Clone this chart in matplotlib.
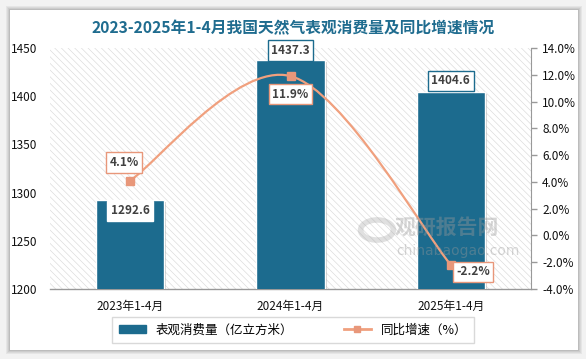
import matplotlib
matplotlib.use('Agg')
import matplotlib.pyplot as plt
import matplotlib.patches as mpatches
import matplotlib.patheffects as pe
from matplotlib.path import Path
from matplotlib.lines import Line2D
import numpy as np

plt.rcParams['font.family'] = ['Noto Sans CJK SC', 'DejaVu Sans']
plt.rcParams['hatch.color'] = '#dadada'
plt.rcParams['hatch.linewidth'] = 0.45

# ── Data ─────────────────────────────────────────────────────────────────────
categories = ['2023年1-4月', '2024年1-4月', '2025年1-4月']
consumption = [1292.6, 1437.3, 1404.6]   # 亿立方米
growth = [4.1, 11.9, -2.2]               # %

BAR_C = '#1c6b8e'
LINE_C = '#f0a07e'
MARK_C = '#e8977a'
TXT_C = '#404040'

W, H = 586, 359
fig = plt.figure(figsize=(W / 100, H / 100), dpi=100, facecolor='#f2f2f2')

# card with soft shadow
for i, a in enumerate([0.05, 0.05, 0.06, 0.08]):
    d = 4 - i
    fig.patches.append(mpatches.Rectangle(((10 - d) / W, (H - 350 - d) / H),
                                          (568 + 2 * d) / W, (340 + 2 * d) / H,
                                          transform=fig.transFigure, facecolor='black',
                                          edgecolor='none', alpha=a, zorder=0))
fig.patches.append(mpatches.Rectangle((10 / W, (H - 350) / H), 568 / W, 340 / H,
                                      transform=fig.transFigure, facecolor='white',
                                      edgecolor='none', zorder=0.5))

fig.text(0.5, (H - 28) / H, '2023-2025年1-4月我国天然气表观消费量及同比增速情况',
         ha='center', va='center', fontsize=11.3, fontweight='bold', color='#1f6c8f')

ax = fig.add_axes([50 / W, (H - 289) / H, 481 / W, 241 / H])
ax.set_zorder(1)
ax.patch.set_facecolor('white')
ax.patch.set_hatch('\\\\\\\\\\')
ax.patch.set_edgecolor('#dadada')
ax.patch.set_linewidth(0)

x = np.arange(len(categories))
bars = ax.bar(x, consumption, width=0.425, color=BAR_C, edgecolor='white', linewidth=1,
              zorder=3)
for b in bars:
    b.set_path_effects([pe.SimplePatchShadow(offset=(1.5, -1.5), shadow_rgbFace='#777777',
                                             alpha=0.35), pe.Normal()])

ax.set_xlim(-0.5, 2.5)
ax.set_ylim(1200, 1450)
ax.set_yticks(np.arange(1200, 1451, 50))
ax.set_xticks(x)
ax.set_xticklabels(categories)
ax.tick_params(axis='y', length=0, pad=9, labelsize=8.5, labelcolor='#111111')
ax.tick_params(axis='x', length=0, pad=8, labelsize=8.5, labelcolor='#111111')
for s in ['top', 'left', 'right']:
    ax.spines[s].set_visible(False)
ax.spines['bottom'].set_color('#999999')
ax.spines['bottom'].set_linewidth(1)

# bar labels
bar_offsets = [(0, -8), (0, 7), (0, 8)]
bar_borders = ['white', BAR_C, BAR_C]
for xi, v, off, bc in zip(x, consumption, bar_offsets, bar_borders):
    ax.annotate(f'{v:.1f}', (xi, v), xytext=off, textcoords='offset points',
                ha='center', va='center', fontsize=8.5, fontweight='bold', color=TXT_C,
                zorder=6, annotation_clip=False,
                bbox=dict(boxstyle='square,pad=0.3', fc='white', ec=bc, lw=1))

# growth line on the right axis
ax2 = ax.twinx()
ax2.set_zorder(2)
ax2.set_ylim(-4, 14)
ax2.set_yticks(np.arange(-4, 14.1, 2))
ax2.set_yticklabels([f'{t:.1f}%' for t in np.arange(-4, 14.1, 2)])
ax2.tick_params(axis='y', length=4, width=1, color='#999999', pad=4, labelsize=8.5,
                labelcolor='#111111')
for s in ['top', 'left', 'bottom']:
    ax2.spines[s].set_visible(False)
ax2.spines['right'].set_color('#999999')


def smooth_path(xs, ys):
    # Catmull-Rom style smoothing as cubic Bezier segments
    pts = np.column_stack([xs, ys]).astype(float)
    ext = np.vstack([pts[0], pts, pts[-1]])
    verts = [tuple(pts[0])]
    codes = [Path.MOVETO]
    for i in range(len(pts) - 1):
        p0, p1, p2, p3 = ext[i], ext[i + 1], ext[i + 2], ext[i + 3]
        c1 = p1 + (p2 - p0) / 6
        c2 = p2 - (p3 - p1) / 6
        verts += [tuple(c1), tuple(c2), tuple(p2)]
        codes += [Path.CURVE4] * 3
    return Path(verts, codes)


curve = mpatches.PathPatch(smooth_path(x, growth), facecolor='none', edgecolor=LINE_C,
                           lw=1.6, zorder=4)
ax2.add_patch(curve)
ax2.plot(x, growth, linestyle='none', marker='s', markersize=6, color=MARK_C, zorder=5)

line_offsets = [(-4.5, 13), (0, -13), (16, -5)]
for xi, v, off in zip(x, growth, line_offsets):
    ax2.annotate(f'{v:.1f}%', (xi, v), xytext=off, textcoords='offset points',
                 ha='center', va='center', fontsize=8.5, fontweight='bold', color=TXT_C,
                 zorder=6, annotation_clip=False,
                 bbox=dict(boxstyle='square,pad=0.3', fc='white', ec=MARK_C, lw=1))

# watermark
fig.text(395 / W, (H - 227) / H, '观研报告网', fontsize=15, fontweight='bold',
         color='#9a9a9a', alpha=0.4, ha='left', va='center', zorder=10)
fig.text(396 / W, (H - 251) / H, 'chinabaogao.com', fontsize=10, color='#9a9a9a',
         alpha=0.4, ha='left', va='center', zorder=10, family='DejaVu Sans')
fig.patches.append(mpatches.Circle((377 / W, (H - 230) / H), 0.028, transform=fig.transFigure,
                                   facecolor='none', edgecolor='#9a9a9a', lw=4, alpha=0.3,
                                   zorder=10))

handles = [mpatches.Patch(color=BAR_C, label='表观消费量（亿立方米）'),
           Line2D([0], [0], color=LINE_C, lw=2, marker='s', markersize=5,
                  markerfacecolor=MARK_C, markeredgecolor=MARK_C, label='同比增速（%）')]
leg = fig.legend(handles=handles, loc='center', bbox_to_anchor=(0.5, (H - 330) / H), ncol=2,
                 fontsize=9, frameon=True, fancybox=False, edgecolor='#d0d0d0',
                 handlelength=2.2, handleheight=0.6, columnspacing=4, borderpad=0.5)
leg.get_frame().set_linewidth(1)

fig.savefig('out.png', dpi=100, facecolor=fig.get_facecolor())
